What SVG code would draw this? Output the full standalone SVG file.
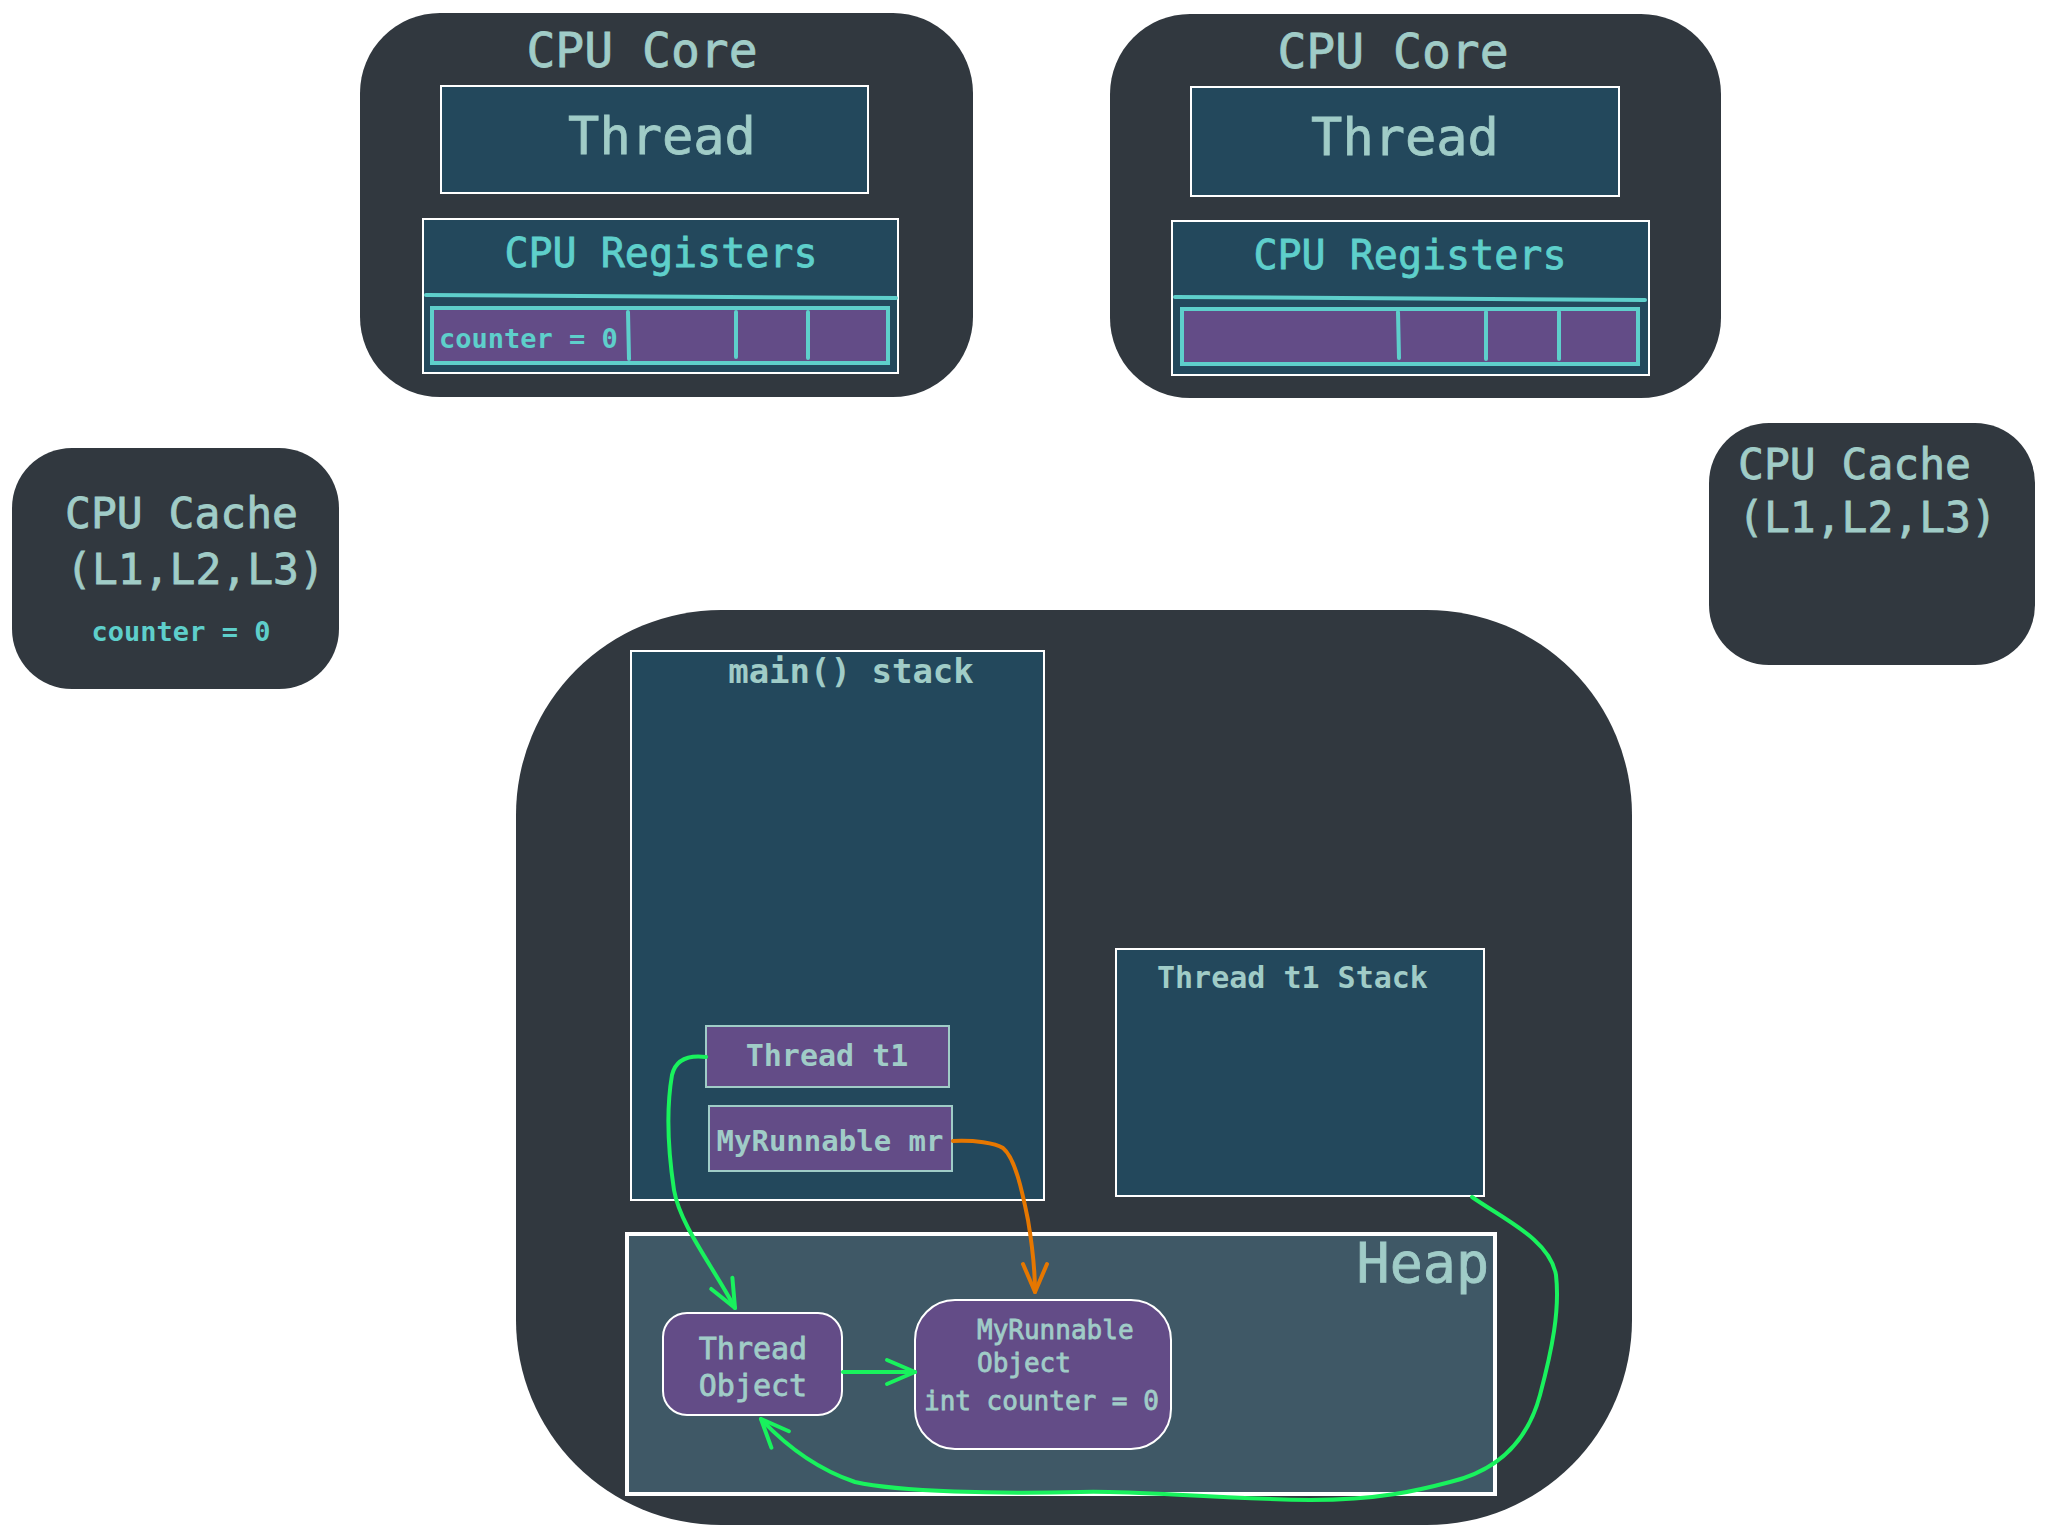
<svg xmlns="http://www.w3.org/2000/svg" width="2047" height="1536" viewBox="0 0 2047 1536">
<defs>
<style>
.bg{fill:#31383f}
.blue{fill:#23485c;stroke:#ffffff;stroke-width:2}
.purple{fill:#634c87}
.t{font-family:"DejaVu Sans Mono","Liberation Mono",monospace;fill:#a0ccc7}
.c{font-family:"DejaVu Sans Mono","Liberation Mono",monospace;fill:#5ecfcb}
.t.m{stroke:#a0ccc7;stroke-width:0.8}
.c.m{stroke:#5ecfcb;stroke-width:0.8}
.reg{fill:#634c87;stroke:#5ecfcb;stroke-width:4}
.cl{stroke:#5ecfcb;stroke-width:4;fill:none;stroke-linecap:round}
.g{fill:none;stroke:#19f25d;stroke-width:4;stroke-linecap:round}
.o{fill:none;stroke:#e67700;stroke-width:4;stroke-linecap:round}
</style>
<marker id="ag" viewBox="0 0 34 30" refX="31" refY="15" markerWidth="34" markerHeight="30" markerUnits="userSpaceOnUse" orient="auto">
<path d="M3,3 L31,15 L3,27" fill="none" stroke="#19f25d" stroke-width="4" stroke-linecap="round" stroke-linejoin="round"/>
</marker>
<marker id="ao" viewBox="0 0 34 30" refX="31" refY="15" markerWidth="34" markerHeight="30" markerUnits="userSpaceOnUse" orient="auto">
<path d="M3,3 L31,15 L3,27" fill="none" stroke="#e67700" stroke-width="4" stroke-linecap="round" stroke-linejoin="round"/>
</marker>
</defs>
<rect width="2047" height="1536" fill="#ffffff"/>

<g id="cpu-core-1">
<rect class="bg" x="360" y="13" width="613" height="384" rx="80"/>
<text class="t m" x="642" y="67" font-size="48" text-anchor="middle">CPU Core</text>
<rect class="blue" x="441" y="86" width="427" height="107"/>
<text class="t m" x="662" y="154" font-size="52" text-anchor="middle">Thread</text>
<rect class="blue" x="423" y="219" width="475" height="154"/>
<text class="c m" x="661" y="267" font-size="40" text-anchor="middle">CPU Registers</text>
<path class="cl" d="M426,295 L896,298"/>
<rect class="reg" x="432" y="308" width="456" height="55"/>
<path class="cl" d="M628,312 L629,359 M736,312 L736,357 M808,312 L808,358" stroke-width="3.5"/>
<text class="c" x="439" y="348" font-size="27" font-weight="bold">counter = 0</text>
</g>

<g id="cpu-core-2">
<rect class="bg" x="1110" y="14" width="611" height="384" rx="80"/>
<text class="t m" x="1393" y="68" font-size="48" text-anchor="middle">CPU Core</text>
<rect class="blue" x="1191" y="87" width="428" height="109"/>
<text class="t m" x="1405" y="155" font-size="52" text-anchor="middle">Thread</text>
<rect class="blue" x="1172" y="221" width="477" height="154"/>
<text class="c m" x="1410" y="269" font-size="40" text-anchor="middle">CPU Registers</text>
<path class="cl" d="M1175,297 L1645,300"/>
<rect class="reg" x="1182" y="309" width="456" height="55"/>
<path class="cl" d="M1398,312 L1399,358 M1486,312 L1486,359 M1559,312 L1559,359" stroke-width="3.5"/>
</g>

<g id="cpu-cache-1">
<rect class="bg" x="12" y="448" width="327" height="241" rx="60"/>
<text class="t m" x="65" y="528" font-size="43">CPU Cache</text>
<text class="t m" x="66" y="584" font-size="43">(L1,L2,L3)</text>
<text class="c" x="181" y="641" font-size="27" font-weight="bold" text-anchor="middle">counter = 0</text>
</g>

<g id="cpu-cache-2">
<rect class="bg" x="1709" y="423" width="326" height="242" rx="60"/>
<text class="t m" x="1738" y="479" font-size="43">CPU Cache</text>
<text class="t m" x="1738" y="532" font-size="43">(L1,L2,L3)</text>
</g>

<g id="memory">
<rect class="bg" x="516" y="610" width="1116" height="915" rx="205"/>
</g>

<g id="main-stack">
<rect class="blue" x="631" y="651" width="413" height="549"/>
<text class="t" x="851" y="683" font-size="34" font-weight="bold" text-anchor="middle">main() stack</text>
</g>

<g id="thread-t1">
<rect class="purple" x="706" y="1026" width="243" height="61" stroke="#a0ccc7" stroke-width="2"/>
<text class="t" x="827" y="1066" font-size="30" font-weight="bold" text-anchor="middle">Thread t1</text>
</g>

<g id="myrunnable-mr">
<rect class="purple" x="709" y="1106" width="243" height="65" stroke="#a0ccc7" stroke-width="2"/>
<text class="t" x="830" y="1151" font-size="29" font-weight="bold" text-anchor="middle">MyRunnable mr</text>
</g>

<g id="thread-t1-stack">
<rect class="blue" x="1116" y="949" width="368" height="247"/>
<text class="t" x="1157" y="988" font-size="30" font-weight="bold">Thread t1 Stack</text>
</g>

<g id="heap">
<rect x="627" y="1234" width="868" height="260" fill="#3f5866" stroke="#ffffff" stroke-width="4"/>
<text class="t m" x="1489" y="1282" font-size="55" text-anchor="end">Heap</text>
</g>

<g id="thread-object">
<rect class="purple" x="663" y="1313" width="179" height="102" rx="24" stroke="#ffffff" stroke-width="2"/>
<text class="t m" x="753" y="1359" font-size="30" text-anchor="middle">Thread</text>
<text class="t m" x="753" y="1396" font-size="30" text-anchor="middle">Object</text>
</g>

<g id="myrunnable-object">
<rect class="purple" x="915" y="1300" width="256" height="149" rx="40" stroke="#ffffff" stroke-width="2"/>
<text class="t m" x="977" y="1339" font-size="26">MyRunnable</text>
<text class="t m" x="977" y="1372" font-size="26">Object</text>
<text class="t m" x="924" y="1410" font-size="26">int counter = 0</text>
</g>

<g id="connectors">
<path class="g" marker-end="url(#ag)" d="M706,1057 C690,1055 676,1058 672,1075 C666,1110 668,1150 674,1190 C680,1225 712,1265 735,1308"/>
<path class="o" marker-end="url(#ao)" d="M953,1141 C975,1140 995,1143 1003,1148 C1015,1158 1022,1190 1028,1220 C1033,1250 1035,1272 1035,1292"/>
<path class="g" marker-end="url(#ag)" d="M843,1372 L915,1372"/>
<path class="g" marker-end="url(#ag)" d="M1472,1197 C1505,1220 1550,1240 1556,1275 C1560,1310 1552,1350 1540,1395 C1528,1440 1500,1470 1450,1482 C1420,1490 1380,1500 1310,1500 C1200,1498 1130,1490 1080,1492 C1000,1494 900,1492 855,1482 C820,1470 790,1450 761,1419"/>
</g>
</svg>
